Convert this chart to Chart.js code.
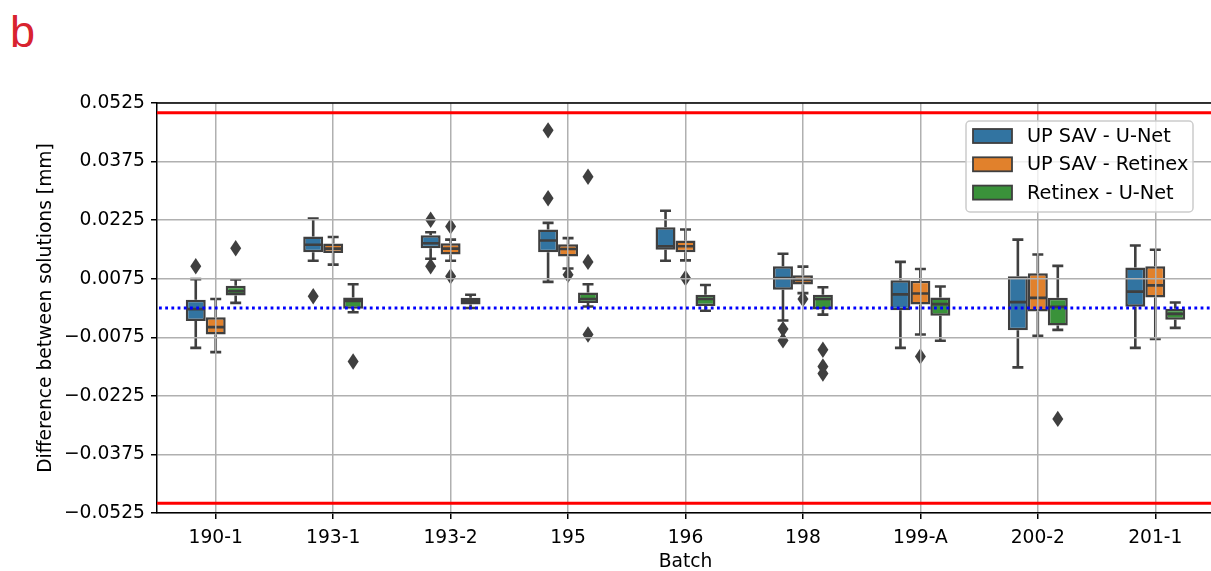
<!DOCTYPE html>
<html>
<head>
<meta charset="utf-8">
<script src="https://cdn.jsdelivr.net/npm/chart.js@4.4.1/dist/chart.umd.min.js"></script>
<style>
  html, body { margin: 0; padding: 0; background: #fff; overflow: hidden; }
  .wrap { position: absolute; left: 0; top: 0; width: 1216px; height: 571px; }
  .panel { position: absolute; left: 10px; top: 9px; font: 45px "Liberation Sans", Arial, sans-serif; line-height: 1; color: #d8232f; }
</style>
</head>
<body>
<div class="panel">b</div>
<div class="wrap"><canvas id="chart"></canvas></div>
<script>
// batches on the x axis
const batches = ['190-1', '193-1', '193-2', '195', '196', '198', '199-A', '200-2', '201-1'];
const yTicks = [-0.0525, -0.0375, -0.0225, -0.0075, 0.0075, 0.0225, 0.0375, 0.0525];
const limitLines = [0.05, -0.05];
const zeroLine = 0;

// per batch: [lower whisker, q1, median, q3, upper whisker]
const unetBox = [
  [-0.0102, -0.0033, -0.0003, 0.0021, 0.0074],
  [0.0121, 0.0143, 0.0162, 0.0183, 0.0229],
  [0.0126, 0.0153, 0.0166, 0.0186, 0.0194],
  [0.0067, 0.0143, 0.0173, 0.0201, 0.0218],
  [0.0121, 0.0149, 0.0158, 0.0207, 0.0249],
  [-0.0032, 0.0047, 0.0077, 0.0107, 0.0139],
  [-0.0102, -0.0006, 0.0035, 0.0071, 0.0118],
  [-0.0152, -0.0057, 0.0015, 0.0081, 0.0175],
  [-0.0102, 0.0003, 0.0042, 0.0104, 0.0160]
];
const unetOut = [[0.0107], [0.0030], [0.0226, 0.0107], [0.0455, 0.0281], [], [-0.0054, -0.0083], [], [], []];

const retinexBox = [
  [-0.0113, -0.0068, -0.0049, -0.0024, 0.0023],
  [0.0111, 0.0141, 0.0152, 0.0165, 0.0182],
  [0.0121, 0.0137, 0.0152, 0.0166, 0.0175],
  [0.0101, 0.0132, 0.0151, 0.0163, 0.0179],
  [0.0122, 0.0143, 0.0158, 0.0173, 0.0201],
  [0.0038, 0.0060, 0.0072, 0.0084, 0.0106],
  [-0.0068, 0.0009, 0.0037, 0.0070, 0.0100],
  [-0.0071, -0.0009, 0.0026, 0.0089, 0.0137],
  [-0.0079, 0.0027, 0.0058, 0.0107, 0.0149]
];
const retinexOut = [[], [], [0.0209, 0.0081], [0.0085], [0.0077], [0.0023], [-0.0124], [], []];

const retUnetBox = [
  [0.0013, 0.0032, 0.0043, 0.0057, 0.0073],
  [-0.0011, -0.0002, 0.0018, 0.0027, 0.0061],
  [0.0000, 0.0009, 0.0017, 0.0026, 0.0034],
  [0.0004, 0.0013, 0.0023, 0.0040, 0.0061],
  [-0.0007, 0.0005, 0.0023, 0.0034, 0.0059],
  [-0.0017, -0.0004, 0.0023, 0.0034, 0.0053],
  [-0.0084, -0.0020, 0.0010, 0.0027, 0.0055],
  [-0.0056, -0.0045, 0.0003, 0.0026, 0.0108],
  [-0.0051, -0.0030, -0.0015, -0.0002, 0.0014]
];
const retUnetOut = [[0.0153], [-0.0137], [], [0.0336, 0.0118, -0.0068], [], [-0.0107, -0.0150, -0.0168], [], [-0.0284], []];

const edge = '#3f3f3f';
const font = { family: 'DejaVu Sans', size: 18.7 };

function boxSet(label, color, stats, outliers) {
  return {
    label: label,
    data: stats.map((s) => [s[1], s[3]]),
    stats: stats,
    outliers: outliers,
    backgroundColor: color,
    borderColor: edge,
    borderWidth: 2.5,
    borderSkipped: false,
    categoryPercentage: 0.51,
    barPercentage: 1.0
  };
}

// whiskers, medians and outlier diamonds on top of the floating bars
const boxParts = {
  id: 'boxParts',
  afterDatasetsDraw(chart) {
    const ctx = chart.ctx;
    const ys = chart.scales.y;
    ctx.save();
    ctx.strokeStyle = edge;
    ctx.fillStyle = edge;
    ctx.lineWidth = 2.6;
    chart.data.datasets.forEach((ds, di) => {
      const meta = chart.getDatasetMeta(di);
      meta.data.forEach((bar, i) => {
        const s = ds.stats[i];
        const x = bar.x, w = bar.width;
        const pLo = ys.getPixelForValue(s[0]);
        const pQ1 = ys.getPixelForValue(s[1]);
        const pMed = ys.getPixelForValue(s[2]);
        const pQ3 = ys.getPixelForValue(s[3]);
        const pHi = ys.getPixelForValue(s[4]);
        ctx.beginPath();
        ctx.moveTo(x, pQ3); ctx.lineTo(x, pHi);
        ctx.moveTo(x, pQ1); ctx.lineTo(x, pLo);
        ctx.moveTo(x - w / 4 - 0.5, pHi); ctx.lineTo(x + w / 4 + 0.5, pHi);
        ctx.moveTo(x - w / 4 - 0.5, pLo); ctx.lineTo(x + w / 4 + 0.5, pLo);
        ctx.moveTo(x - w / 2 + 1, pMed); ctx.lineTo(x + w / 2 - 1, pMed);
        ctx.stroke();
        ds.outliers[i].forEach((v) => {
          const py = ys.getPixelForValue(v);
          ctx.beginPath();
          ctx.moveTo(x, py - 8.2);
          ctx.lineTo(x + 5.5, py);
          ctx.lineTo(x, py + 8.2);
          ctx.lineTo(x - 5.5, py);
          ctx.closePath();
          ctx.fill();
        });
      });
    });
    ctx.restore();
  },
  afterDraw(chart) {
    const ctx = chart.ctx;
    const ys = chart.scales.y;
    const area = chart.chartArea;
    ctx.save();
    // top spine
    ctx.strokeStyle = '#000';
    ctx.lineWidth = 1.5;
    ctx.beginPath();
    ctx.moveTo(area.left, area.top);
    ctx.lineTo(area.right, area.top);
    ctx.stroke();
    // tolerance limits
    ctx.strokeStyle = '#ff0000';
    ctx.lineWidth = 2.8;
    limitLines.forEach((v) => {
      const py = ys.getPixelForValue(v);
      ctx.beginPath();
      ctx.moveTo(area.left, py);
      ctx.lineTo(area.right, py);
      ctx.stroke();
    });
    // zero line
    ctx.strokeStyle = '#0000ff';
    ctx.lineWidth = 2.9;
    ctx.setLineDash([2.8, 3.4]);
    const pz = ys.getPixelForValue(zeroLine);
    ctx.beginPath();
    ctx.moveTo(area.left + 2, pz);
    ctx.lineTo(area.right, pz);
    ctx.stroke();
    ctx.setLineDash([]);

    // legend in the upper right
    const lw = 227, lh = 91;
    const lx = area.right - 21 - lw, ly = area.top + 18;
    ctx.fillStyle = 'rgba(255,255,255,0.8)';
    ctx.strokeStyle = '#cccccc';
    ctx.lineWidth = 1.5;
    ctx.beginPath();
    ctx.roundRect(lx, ly, lw, lh, 4);
    ctx.fill();
    ctx.stroke();
    ctx.font = '19.3px "DejaVu Sans"';
    ctx.textBaseline = 'middle';
    chart.data.datasets.forEach((ds, di) => {
      const cy = ly + 15 + di * 28.3;
      ctx.fillStyle = ds.backgroundColor;
      ctx.fillRect(lx + 7, cy - 7, 39, 14);
      ctx.strokeStyle = edge;
      ctx.lineWidth = 1.8;
      ctx.strokeRect(lx + 7, cy - 7, 39, 14);
      ctx.fillStyle = '#000';
      ctx.fillText(ds.label, lx + 61, cy + 1);
    });
    ctx.restore();
  }
};

const data = {
  labels: batches,
  datasets: [
    boxSet('UP SAV - U-Net', '#3274a1', unetBox, unetOut),
    boxSet('UP SAV - Retinex', '#e1812c', retinexBox, retinexOut),
    boxSet('Retinex - U-Net', '#3a923a', retUnetBox, retUnetOut)
  ]
};

const config = {
  type: 'bar',
  data,
  plugins: [boxParts],
  options: {
    responsive: true,
    maintainAspectRatio: false,
    animation: false,
    layout: { padding: { top: 103, right: 2, left: 0, bottom: 0 } },
    plugins: {
      legend: { display: false },
      tooltip: { enabled: false }
    },
    scales: {
      x: {
        type: 'category',
        offset: true,
        afterFit: (axis) => { axis.height = 58; },
        grid: { offset: false, color: '#b0b0b0', lineWidth: 1.5, tickColor: '#000', tickLength: 6, tickWidth: 1.5, z: 1 },
        border: { color: '#000', width: 1.5, z: 2 },
        ticks: { color: '#000', font: font, padding: 8, maxRotation: 0, autoSkip: false },
        title: { display: true, text: 'Batch', color: '#000', font: font, padding: { top: 0, bottom: -2 } }
      },
      y: {
        min: -0.0525,
        max: 0.0525,
        afterFit: (axis) => { axis.width = 157; },
        afterBuildTicks: (axis) => { axis.ticks = yTicks.map((v) => ({ value: v })); },
        grid: { color: '#b0b0b0', lineWidth: 1.5, tickColor: '#000', tickLength: 6, tickWidth: 1.5, z: 1 },
        border: { color: '#000', width: 1.5, z: 2 },
        ticks: {
          color: '#000',
          font: font,
          padding: 6,
          callback: (v) => v.toFixed(4).replace('-', '\u2212')
        },
        title: { display: true, text: 'Difference between solutions [mm]', color: '#000', font: font, padding: { top: 35, bottom: 0 } }
      }
    }
  }
};

const boxChart = new Chart(document.getElementById('chart'), config);
</script>
</body>
</html>
